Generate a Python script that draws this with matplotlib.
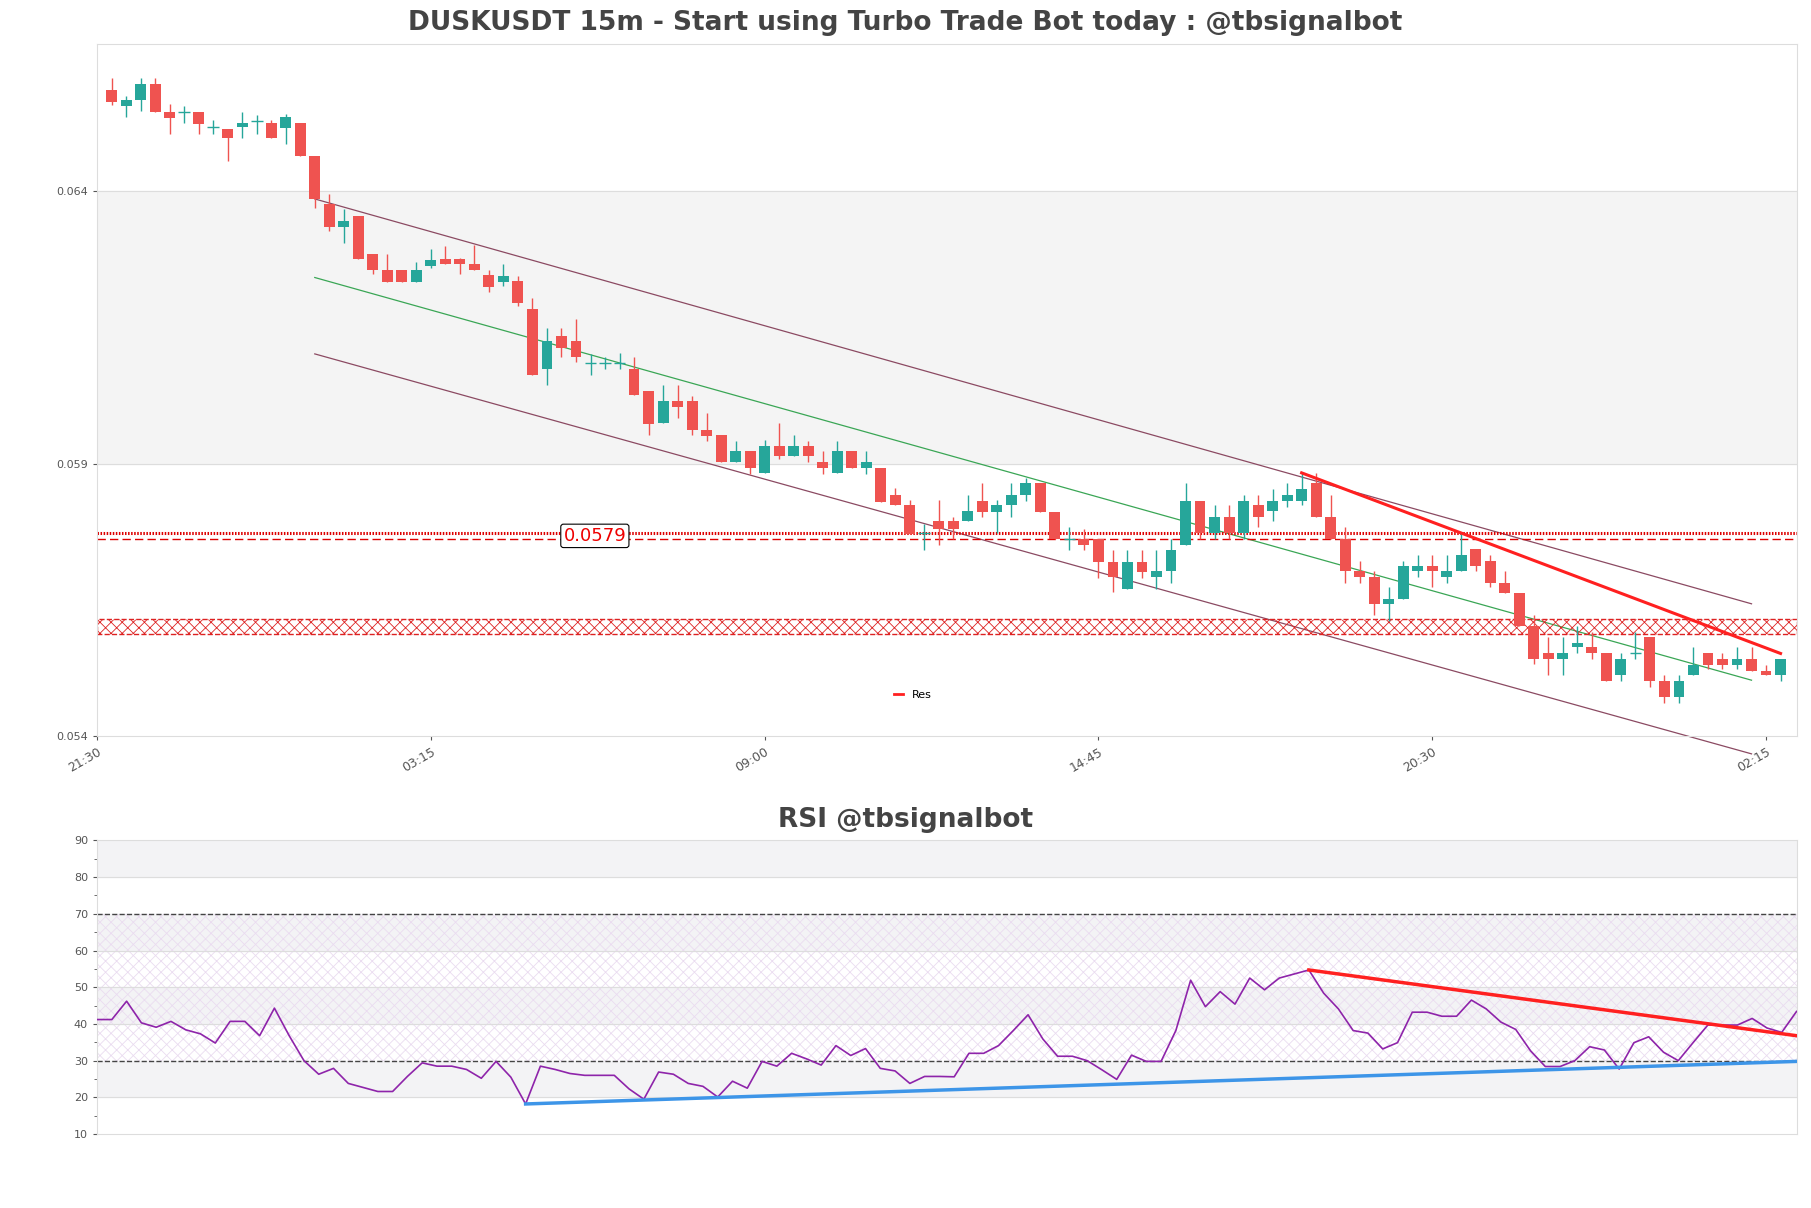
import matplotlib
matplotlib.use("Agg")
import matplotlib.pyplot as plt
import numpy as np

# prices in units of 1e-5 USDT, candles at index 1..116 (15m bars from 21:45)
opens = [6585,6555,6566,6595,6544,6544,6544,6517,6513,6517,6527,6525,6515,6525,6464,6375,6334,6354,6284,6254,
         6254,6233,6262,6275,6275,6265,6245,6233,6235,6184,6074,6133,6125,6084,6084,6084,6074,6033,5974,6014,
         6014,5961,5953,5902,5923,5883,5932,5913,5932,5902,5883,5923,5891,5891,5843,5824,5773,5794,5794,5794,
         5832,5811,5824,5843,5864,5811,5762,5762,5762,5720,5671,5720,5692,5703,5751,5832,5773,5802,5773,5824,
         5813,5832,5832,5864,5802,5762,5703,5692,5643,5652,5703,5713,5692,5703,5743,5722,5682,5662,5603,5552,
         5542,5563,5563,5552,5512,5552,5582,5501,5472,5512,5552,5542,5531,5542,5520,5512]
closes = [6563,6566,6595,6544,6534,6544,6523,6517,6496,6525,6527,6496,6536,6464,6385,6334,6345,6275,6254,6233,
          6233,6254,6273,6265,6265,6254,6224,6243,6195,6063,6125,6112,6095,6084,6084,6084,6025,5972,6014,6004,
          5961,5951,5902,5923,5891,5932,5913,5932,5913,5891,5923,5891,5902,5830,5824,5771,5773,5781,5781,5813,
          5811,5824,5843,5864,5811,5762,5762,5751,5720,5692,5720,5701,5703,5741,5832,5773,5802,5773,5832,5802,
          5832,5843,5853,5802,5762,5703,5692,5643,5652,5713,5713,5703,5703,5732,5713,5682,5662,5603,5542,5542,
          5552,5571,5552,5501,5542,5552,5501,5472,5501,5531,5531,5531,5542,5520,5512,5542]
highs = [6606,6574,6606,6606,6559,6555,6544,6530,6513,6544,6538,6530,6540,6525,6464,6394,6366,6354,6284,6284,
         6254,6269,6294,6298,6277,6301,6254,6265,6243,6203,6148,6148,6165,6101,6095,6103,6095,6033,6044,6044,
         6023,5993,5953,5942,5923,5944,5974,5953,5942,5923,5942,5923,5923,5891,5855,5834,5790,5834,5802,5843,
         5864,5834,5864,5874,5864,5811,5783,5781,5762,5741,5741,5741,5741,5762,5864,5832,5824,5824,5843,5843,
         5853,5864,5883,5883,5843,5783,5722,5703,5673,5722,5732,5732,5732,5773,5743,5732,5703,5662,5622,5582,
         5582,5603,5592,5552,5552,5592,5582,5512,5512,5563,5552,5552,5563,5563,5531,5542]
lows = [6557,6536,6546,6544,6504,6525,6504,6504,6455,6496,6504,6496,6485,6464,6368,6326,6305,6275,6248,6233,
        6233,6233,6258,6265,6248,6254,6214,6226,6188,6063,6044,6095,6086,6063,6074,6074,6025,5953,5974,5983,
        5953,5942,5902,5902,5881,5883,5908,5913,5902,5881,5883,5891,5881,5830,5824,5771,5741,5751,5762,5794,
        5802,5773,5802,5832,5811,5762,5741,5741,5690,5665,5671,5690,5671,5682,5751,5762,5762,5762,5762,5783,
        5794,5821,5824,5802,5762,5682,5682,5622,5612,5652,5692,5673,5682,5703,5703,5673,5662,5603,5533,5512,
        5512,5552,5542,5501,5501,5542,5491,5461,5461,5512,5523,5523,5523,5520,5512,5501]
SCALE = 1e-5

tick_labels = ["21:30", "03:15", "09:00", "14:45", "20:30", "02:15"]
tick_idx = [0, 23, 46, 69, 92, 115]

# channel (index, price)
chan_x = [15, 114]
chan_upper = [6385, 5643]
chan_mid = [6241, 5503]
chan_lower = [6101, 5368]
res_x = [83, 116]
res_y = [5883, 5552]
level_dotted = 5773
level_dashed = 5762
level_label = "0.0579"
zone = [5588, 5616]

rsi = [41.2,41.2,46.2,40.3,39.1,40.7,38.4,37.3,34.8,40.7,40.7,36.8,44.3,36.8,30.0,26.3,27.9,23.8,22.7,21.6,
       21.6,25.7,29.4,28.5,28.5,27.6,25.2,29.8,25.5,18.2,28.5,27.6,26.5,26.0,26.0,26.0,22.3,19.5,26.9,26.3,
       23.8,23.0,20.1,24.4,22.5,29.8,28.5,32.0,30.5,28.8,34.1,31.4,33.3,27.9,27.2,23.8,25.7,25.7,25.6,32.0,
       32.0,34.1,38.2,42.5,35.9,31.2,31.2,30.0,27.5,24.9,31.5,29.8,29.8,38.2,51.9,44.7,48.8,45.4,52.5,49.3,
       52.5,53.6,54.7,48.4,44.1,38.2,37.5,33.2,34.9,43.2,43.2,42.1,42.1,46.5,44.1,40.5,38.5,32.7,28.4,28.4,
       30.0,33.8,32.9,27.7,34.9,36.5,32.3,30.0,34.9,39.7,39.7,39.7,41.5,38.9,37.7,43.4]
rsi_red_x = [82, 115]
rsi_red_y = [54.7, 36.8]
rsi_blue_x = [29, 115]
rsi_blue_y = [18.2, 29.8]

UP, DN = "#26a69a", "#ef5350"
plt.rcParams["hatch.linewidth"] = 0.6
fig = plt.figure(figsize=(18.11, 12.08), dpi=100)
ax = fig.add_axes([0.0536, 0.3904, 0.9384, 0.5732])
ax.set_xlim(0, 117.1)
ax.set_ylim(0.054, 0.06669)
ax.axhspan(0.059, 0.064, color="#f4f4f4", zorder=0)
for y in (0.059, 0.064):
    ax.axhline(y, color="#dddddd", lw=0.8, zorder=0)

for i in range(len(opens)):
    x = i + 1
    o, c, h, l = opens[i]*SCALE, closes[i]*SCALE, highs[i]*SCALE, lows[i]*SCALE
    col = UP if c >= o else DN
    ax.vlines(x, min(l, o, c), max(h, o, c), color=col, lw=1, zorder=3)
    body = abs(c - o)
    if body < 1e-6:
        ax.hlines(o, x-0.4, x+0.4, color=col, lw=1, zorder=3)
    else:
        ax.bar(x, body, bottom=min(o, c), width=0.75, color=col, zorder=3)

ax.plot(chan_x, np.array(chan_upper)*SCALE, color="#8b4a62", lw=0.9, zorder=2)
ax.plot(chan_x, np.array(chan_mid)*SCALE, color="#3aa655", lw=0.9, zorder=2)
ax.plot(chan_x, np.array(chan_lower)*SCALE, color="#8b4a62", lw=0.9, zorder=2, clip_on=False)
ax.plot(res_x, np.array(res_y)*SCALE, color="#ff2020", lw=2.2, zorder=4)
ax.axhline(level_dotted*SCALE, color="#dd0000", lw=2.2, ls=(0, (0.5, 0.5)), zorder=2)
ax.axhline(level_dashed*SCALE, color="#dd0000", lw=1, ls=(0, (6, 3)), zorder=2)
ax.text(34.3, (level_dotted+level_dashed)/2*SCALE, level_label, color="#ee0000", fontsize=13,
        ha="center", va="center", zorder=5,
        bbox=dict(boxstyle="round,pad=0.15", fc="white", ec="black", lw=0.8))
ax.fill_between([0, 117.1], zone[0]*SCALE, zone[1]*SCALE, facecolor="none", edgecolor="#dd2222",
                hatch="xxx", lw=1, ls="--", zorder=2)
ax.plot([], [], color="#ff2020", lw=2, label="Res")
ax.legend(loc="lower center", bbox_to_anchor=(0.48, 0.038), frameon=False, fontsize=8,
          handlelength=0.8)
ax.set_yticks([0.054, 0.059, 0.064])
ax.set_yticklabels(["0.054", "0.059", "0.064"])
ax.set_xticks(tick_idx)
ax.set_xticklabels(tick_labels, rotation=30, ha="right", rotation_mode="anchor", fontsize=9)
ax.tick_params(axis="y", labelsize=8)
ax.tick_params(colors="#555555", length=3)
for s in ax.spines.values():
    s.set_color("#dddddd")
fig.text(0.5, 0.981, "DUSKUSDT 15m - Start using Turbo Trade Bot today : @tbsignalbot",
         ha="center", va="center", fontsize=19, fontweight="bold", color="#444444")

ax2 = fig.add_axes([0.0536, 0.0612, 0.9384, 0.2431])
ax2.set_xlim(0, len(rsi)-1)
ax2.set_ylim(10, 90)
for lo, hi in [(80, 90), (60, 70), (40, 50), (20, 30)]:
    ax2.axhspan(lo, hi, color="#f3f3f5", zorder=0)
ax2.fill_between([0, len(rsi)-1], 30, 70, facecolor="none", edgecolor="#eadcf0", hatch="xxx", lw=0, zorder=0)
for y in (20, 40, 50, 60, 80):
    ax2.axhline(y, color="#dddddd", lw=0.8, zorder=0)
for y in (30, 70):
    ax2.axhline(y, color="#444444", lw=1, ls="--", zorder=1)
ax2.plot(range(len(rsi)), rsi, color="#8e24aa", lw=1.2, zorder=3)
ax2.plot(rsi_red_x, rsi_red_y, color="#ff2020", lw=2.5, zorder=4)
ax2.plot(rsi_blue_x, rsi_blue_y, color="#3d95e8", lw=2.5, zorder=4)
ax2.set_yticks(range(10, 91, 10))
ax2.set_yticks(range(15, 90, 10), minor=True)
ax2.set_xticks([])
ax2.tick_params(labelsize=8, colors="#555555", length=3)
ax2.tick_params(which="minor", length=2, colors="#555555")
for s in ax2.spines.values():
    s.set_color("#dddddd")
fig.text(0.5, 0.3215, "RSI @tbsignalbot", ha="center", va="center",
         fontsize=19, fontweight="bold", color="#444444")

fig.savefig("out.png", dpi=100)
